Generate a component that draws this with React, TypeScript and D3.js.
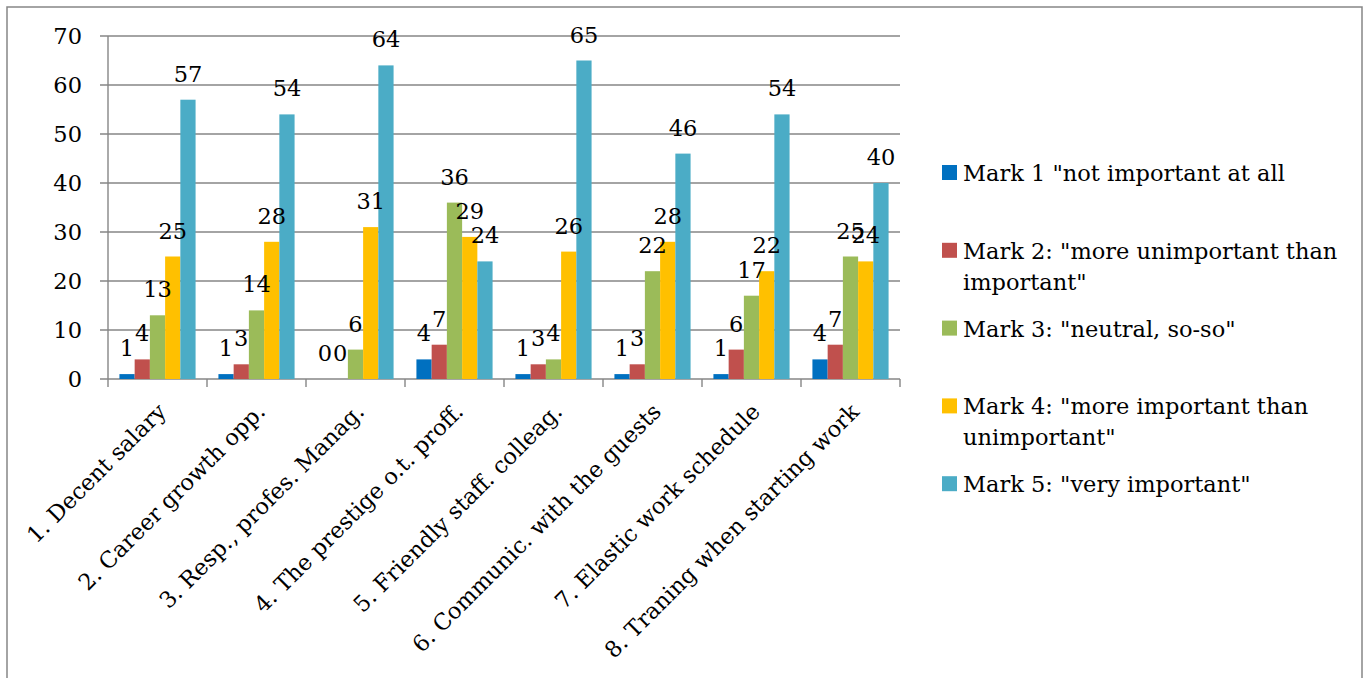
import React from "react";
import * as d3 from "d3";

const categories = [
  "1. Decent salary",
  "2. Career growth opp.",
  "3. Resp., profes. Manag.",
  "4. The prestige o.t. proff.",
  "5. Friendly staff. colleag.",
  "6. Communic. with the guests",
  "7. Elastic work schedule",
  "8. Traning when starting work",
];

const seriesNames = ["Mark 1", "Mark 2", "Mark 3", "Mark 4", "Mark 5"];
const mark1 = [1, 1, 0, 4, 1, 1, 1, 4];
const mark2 = [4, 3, 0, 7, 3, 3, 6, 7];
const mark3 = [13, 14, 6, 36, 4, 22, 17, 25];
const mark4 = [25, 28, 31, 29, 26, 28, 22, 24];
const mark5 = [57, 54, 64, 24, 65, 46, 54, 40];
const seriesValues = [mark1, mark2, mark3, mark4, mark5];
const seriesColors = ["#0070C0", "#C0504D", "#9BBB59", "#FFC000", "#4BACC6"];
const legendLines = [
  ['Mark 1 "not important at all'],
  ['Mark 2: "more unimportant than', 'important"'],
  ['Mark 3: "neutral, so-so"'],
  ['Mark 4: "more important than', 'unimportant"'],
  ['Mark 5: "very important"'],
];
const yTicks = [0, 10, 20, 30, 40, 50, 60, 70];

const W = 1368;
const H = 678;
const FONT = "'DejaVu Serif', serif";
const FS = 22.5;
const GRID = "#868686";

export default function App() {
  const plot = { left: 108, right: 900, top: 36, bottom: 379 };
  const x = d3.scaleBand<string>().domain(categories).range([plot.left, plot.right]).padding(0);
  const inner = d3
    .scaleBand<string>()
    .domain(seriesNames)
    .range([0, x.step()])
    .paddingInner(0)
    .paddingOuter(0.75);
  const y = d3.scaleLinear().domain([0, 70]).range([plot.bottom, plot.top]);

  const tickXs = categories.map((c) => x(c)!).concat([plot.right]);

  return (
    <svg
      width={W}
      height={H}
      style={{ position: "absolute", left: 0, top: 0, display: "block", background: "#fff" }}
      fontFamily={FONT}
    >
      <rect x={7} y={7} width={1355} height={690} fill="#fff" stroke={GRID} strokeWidth={1.5} />

      {/* gridlines and y labels */}
      {yTicks.map((t) => (
        <g key={t}>
          <line x1={plot.left - 8} x2={plot.right} y1={y(t)} y2={y(t)} stroke={GRID} strokeWidth={1.4} />
          <text x={82} y={y(t)} dy="0.36em" textAnchor="end" fontSize={FS} fill="#000">
            {t}
          </text>
        </g>
      ))}
      <line x1={plot.left} x2={plot.left} y1={plot.top} y2={plot.bottom} stroke={GRID} strokeWidth={1.4} />
      {tickXs.map((tx, i) => (
        <line key={i} x1={tx} x2={tx} y1={plot.bottom} y2={plot.bottom + 8} stroke={GRID} strokeWidth={1.4} />
      ))}

      {/* bars */}
      {seriesNames.map((s, si) =>
        categories.map((c, ci) => {
          const v = seriesValues[si][ci];
          const bx = x(c)! + inner(s)!;
          return v > 0 ? (
            <rect
              key={s + c}
              x={bx}
              y={y(v)}
              width={inner.bandwidth()}
              height={y(0) - y(v)}
              fill={seriesColors[si]}
            />
          ) : null;
        })
      )}

      {/* value labels */}
      {seriesNames.map((s, si) =>
        categories.map((c, ci) => {
          const v = seriesValues[si][ci];
          const cx = x(c)! + inner(s)! + inner.bandwidth() / 2;
          return (
            <text key={"l" + s + c} x={cx} y={y(v) - 18} textAnchor="middle" fontSize={FS} fill="#000">
              {v}
            </text>
          );
        })
      )}

      {/* category labels */}
      {categories.map((c) => {
        const cx = x(c)! + x.bandwidth() / 2 + 10;
        return (
          <text
            key={"c" + c}
            transform={`translate(${cx},413) rotate(-45)`}
            textAnchor="end"
            fontSize={FS}
            fill="#000"
          >
            {c}
          </text>
        );
      })}

      {/* legend */}
      {legendLines.map((lines, i) => {
        const top = 165 + i * 77.8;
        return (
          <g key={"lg" + i}>
            <rect x={942} y={top} width={15} height={15} fill={seriesColors[i]} />
            {lines.map((ln, li) => (
              <text key={li} x={963} y={top + 16 + li * 31} fontSize={FS} fill="#000">
                {ln}
              </text>
            ))}
          </g>
        );
      })}
    </svg>
  );
}
